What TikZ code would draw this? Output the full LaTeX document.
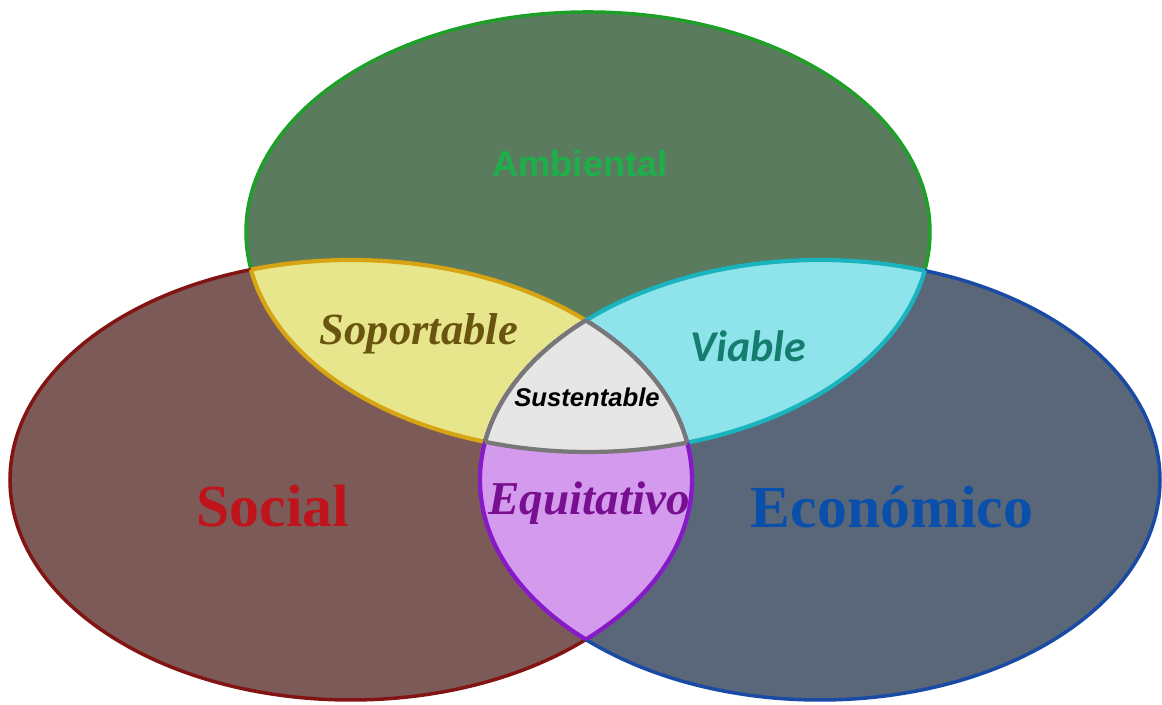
\documentclass[tikz,border=0pt]{standalone}
\usepackage{fontspec}
\setmainfont{Liberation Serif}
\newfontfamily\arialf{Liberation Sans}
\newfontfamily\calibrif{Carlito}

\definecolor{ambfill}{RGB}{91,123,94}
\definecolor{ambedge}{RGB}{30,160,40}
\definecolor{socfill}{RGB}{123,90,88}
\definecolor{socedge}{RGB}{130,20,20}
\definecolor{ecofill}{RGB}{90,103,121}
\definecolor{ecoedge}{RGB}{25,75,165}
\definecolor{sopfill}{RGB}{232,230,140}
\definecolor{sopedge}{RGB}{215,165,20}
\definecolor{viafill}{RGB}{143,227,234}
\definecolor{viaedge}{RGB}{25,180,190}
\definecolor{equfill}{RGB}{212,154,238}
\definecolor{equedge}{RGB}{135,25,200}
\definecolor{susfill}{RGB}{230,230,230}
\definecolor{susedge}{RGB}{120,120,120}

\definecolor{ambtext}{RGB}{30,175,75}
\definecolor{soctext}{RGB}{192,20,28}
\definecolor{ecotext}{RGB}{10,80,170}
\definecolor{soptext}{RGB}{105,85,15}
\definecolor{viatext}{RGB}{20,125,110}
\definecolor{equtext}{RGB}{120,15,145}

\newcommand{\ambpath}{(5.88,4.73) ellipse [x radius=3.42, y radius=2.2]}
\newcommand{\socpath}{(3.51,2.25) ellipse [x radius=3.41, y radius=2.2]}
\newcommand{\ecopath}{(8.20,2.25) ellipse [x radius=3.40, y radius=2.2]}

% lens shared by two circles: #1, #2 paths, #3 fill, #4 edge
\newcommand{\lens}[4]{%
  \begin{scope}
    \clip #1; \clip #2;
    \fill [#3] #1;
  \end{scope}
  \begin{scope}
    \clip #1;
    \draw [overlap, #4] #2;
  \end{scope}
  \begin{scope}
    \clip #2;
    \draw [overlap, #4] #1;
  \end{scope}}

\begin{document}
\begin{tikzpicture}[
    lbl/.style={inner sep=0pt, anchor=base},
    ring/.style={line width=1pt},
    overlap/.style={line width=1.2pt}
  ]
    \useasboundingbox (0,0) rectangle (11.62,7.05);

    % the three circles
    \filldraw [ring, draw=ambedge, fill=ambfill] \ambpath;
    \filldraw [ring, draw=socedge, fill=socfill] \socpath;
    \filldraw [ring, draw=ecoedge, fill=ecofill] \ecopath;

    % pairwise overlaps
    \lens{\ambpath}{\socpath}{sopfill}{sopedge}
    \lens{\ambpath}{\ecopath}{viafill}{viaedge}
    \lens{\socpath}{\ecopath}{equfill}{equedge}

    % centre
    \begin{scope}
      \clip \ambpath; \clip \socpath; \clip \ecopath;
      \fill [susfill] \ambpath;
    \end{scope}
    \begin{scope}
      \clip \socpath; \clip \ecopath;
      \draw [overlap, susedge] \ambpath;
    \end{scope}
    \begin{scope}
      \clip \ambpath; \clip \ecopath;
      \draw [overlap, susedge] \socpath;
    \end{scope}
    \begin{scope}
      \clip \ambpath; \clip \socpath;
      \draw [overlap, susedge] \ecopath;
    \end{scope}

    \node [lbl, text=ambtext, font=\arialf\bfseries\fontsize{10.3}{12}\selectfont] (ambiental) at (5.80,5.28) {Ambiental};
    \node [lbl, text=soctext, font=\bfseries\fontsize{17}{20}\selectfont] (social) at (2.73,1.78) {Social};
    \node [lbl, text=ecotext, font=\bfseries\fontsize{17}{20}\selectfont] (economico) at (8.92,1.77) {Económico};
    \node [lbl, text=soptext, font=\bfseries\itshape\fontsize{12.7}{15}\selectfont] (soportable) at (4.19,3.60) {Soportable};
    \node [lbl, text=viatext, font=\calibrif\bfseries\itshape\fontsize{12.5}{15}\selectfont] (viable) at (7.48,3.43) {Viable};
    \node [lbl, font=\arialf\bfseries\itshape\fontsize{7.3}{9}\selectfont] (sustentable) at (5.87,2.98) {Sustentable};
    \node [lbl, text=equtext, font=\bfseries\itshape\fontsize{13.4}{16}\selectfont] (equitativo) at (5.89,1.90) {Equitativo};
\end{tikzpicture}
\end{document}
